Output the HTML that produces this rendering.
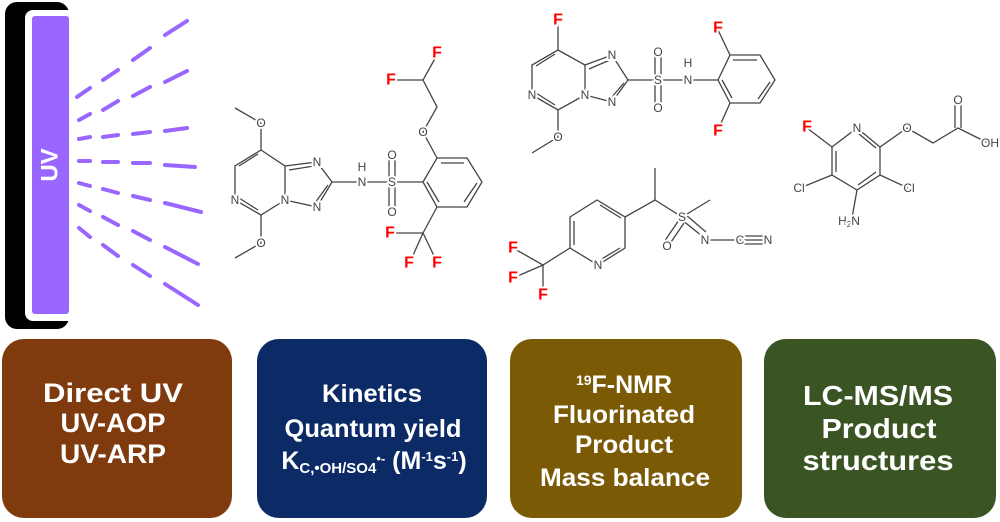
<!DOCTYPE html>
<html><head><meta charset="utf-8"><style>
html,body{margin:0;padding:0;background:#fff;}
svg{display:block;}
.b{stroke:#444;stroke-width:1.3;fill:none;}
.a{font-family:"Liberation Sans",sans-serif;font-size:12px;fill:#444;text-anchor:middle;dominant-baseline:central;paint-order:stroke;stroke:#fff;stroke-width:4px;}
.f{font-family:"Liberation Sans",sans-serif;font-size:16px;font-weight:bold;fill:#f00;text-anchor:middle;dominant-baseline:central;paint-order:stroke;stroke:#fff;stroke-width:4px;}
.t{font-family:"Liberation Sans",sans-serif;font-weight:bold;fill:#fff;text-anchor:middle;}
.r{stroke:#9966ff;stroke-width:4;stroke-linecap:round;}
</style></head><body>
<svg width="1000" height="522" viewBox="0 0 1000 522" xmlns="http://www.w3.org/2000/svg">
<!-- UV lamp -->
<rect x="5" y="2" width="64" height="327" rx="12" fill="#000"/>
<rect x="25" y="10" width="60" height="311" rx="8" fill="#fff"/>
<rect x="32" y="16" width="37" height="298" rx="3" fill="#9966ff"/>
<text x="50" y="165" class="t" font-size="24" transform="rotate(-90 50 165)" dominant-baseline="central">UV</text>
<g class="r">
<line x1="77" y1="97" x2="90" y2="88"/><line x1="103" y1="80" x2="118" y2="70"/><line x1="133" y1="60" x2="150" y2="48"/><line x1="165" y1="35" x2="187" y2="21"/>
<line x1="79" y1="120" x2="90" y2="114"/><line x1="103" y1="110" x2="118" y2="101"/><line x1="133" y1="96" x2="150" y2="87"/><line x1="165" y1="82" x2="187" y2="71"/>
<line x1="79" y1="139" x2="90" y2="137"/><line x1="103" y1="137" x2="118" y2="135"/><line x1="133" y1="134" x2="150" y2="132"/><line x1="165" y1="131" x2="187" y2="128"/>
<line x1="79" y1="161" x2="90" y2="161"/><line x1="103" y1="162" x2="118" y2="162"/><line x1="133" y1="163" x2="150" y2="163"/><line x1="165" y1="165" x2="195" y2="167"/>
<line x1="79" y1="183" x2="90" y2="186"/><line x1="103" y1="189" x2="118" y2="193"/><line x1="133" y1="196" x2="150" y2="200"/><line x1="165" y1="203" x2="201" y2="212"/>
<line x1="79" y1="205" x2="90" y2="211"/><line x1="103" y1="217" x2="118" y2="225"/><line x1="133" y1="231" x2="150" y2="240"/><line x1="165" y1="247" x2="198" y2="264"/>
<line x1="79" y1="228" x2="90" y2="237"/><line x1="103" y1="245" x2="118" y2="256"/><line x1="133" y1="265" x2="150" y2="276"/><line x1="165" y1="284" x2="198" y2="305"/>
</g>

<!-- Molecule 1 -->
<g class="b">
<polyline points="235,108 261,123 261,150 235,166 235,200 261,215 285,200 285,166 261,150"/>
<line x1="258" y1="154" x2="239" y2="166"/><line x1="239" y1="198" x2="258" y2="210"/>
<polyline points="261,215 261,243 235,258"/>
<polyline points="285,166 317,162 332,182 317,207 285,200"/>
<line x1="289" y1="170" x2="314" y2="166"/><line x1="328" y1="185" x2="315" y2="203"/>
<polyline points="332,182 362,182 392,182 423,182"/>
<line x1="389" y1="158" x2="389" y2="209"/><line x1="395" y1="158" x2="395" y2="209"/>
<polygon points="423,182 437,158 467,158 482,182 467,207 437,207"/>
<line x1="441" y1="163" x2="464" y2="163"/><line x1="477" y1="183" x2="464" y2="202"/><line x1="427" y1="182" x2="439" y2="202"/>
<polyline points="437,158 423,132 437,107 423,80 437,55"/><line x1="423" y1="80" x2="392" y2="80"/>
<polyline points="437,207 423,233 392,233"/><polyline points="410,262 423,233 437,262"/>
</g>
<text class="a" x="261" y="123">O</text><text class="a" x="261" y="243">O</text>
<text class="a" x="235" y="200">N</text><text class="a" x="285" y="200">N</text>
<text class="a" x="317" y="162">N</text><text class="a" x="317" y="207">N</text>
<text class="a" x="362" y="182">N</text><text class="a" x="362" y="167">H</text>
<text class="a" x="392" y="182">S</text><text class="a" x="392" y="155">O</text><text class="a" x="392" y="212">O</text>
<text class="a" x="423" y="132">O</text>
<text class="f" x="437" y="53">F</text><text class="f" x="391" y="80">F</text>
<text class="f" x="390" y="233">F</text><text class="f" x="409" y="263">F</text><text class="f" x="437" y="263">F</text>

<!-- Molecule 2 -->
<g class="b">
<polyline points="558,22 558,50 532,65 532,95 558,110 585,95 585,65 558,50"/>
<line x1="555" y1="54" x2="536" y2="66"/><line x1="536" y1="93" x2="555" y2="105"/>
<polyline points="558,110 558,137 532,153"/>
<polyline points="585,65 612,55 628,80 612,102 585,95"/>
<line x1="589" y1="69" x2="610" y2="60"/><line x1="624" y1="83" x2="611" y2="98"/>
<polyline points="628,80 658,80 688,80 718,80"/>
<line x1="655" y1="52" x2="655" y2="108"/><line x1="661" y1="52" x2="661" y2="108"/>
<polygon points="718,80 730,55 760,55 775,80 760,103 730,103"/>
<line x1="733" y1="60" x2="757" y2="60"/><line x1="770" y1="82" x2="758" y2="99"/><line x1="722" y1="80" x2="732" y2="98"/>
<line x1="730" y1="55" x2="718" y2="30"/><line x1="730" y1="103" x2="718" y2="130"/>
</g>
<text class="f" x="558" y="20">F</text>
<text class="a" x="532" y="95">N</text><text class="a" x="585" y="95">N</text>
<text class="a" x="612" y="55">N</text><text class="a" x="612" y="102">N</text>
<text class="a" x="658" y="80">S</text><text class="a" x="658" y="52">O</text><text class="a" x="658" y="108">O</text>
<text class="a" x="688" y="80">N</text><text class="a" x="688" y="63">H</text>
<text class="a" x="558" y="137">O</text>
<text class="f" x="718" y="28">F</text><text class="f" x="718" y="131">F</text>

<!-- Molecule 3 -->
<g class="b">
<polygon points="570,217 597,200 625,217 625,248 598,265 570,248"/>
<line x1="574" y1="221" x2="574" y2="245"/><line x1="600" y1="205" x2="621" y2="218"/><line x1="620" y1="248" x2="600" y2="260"/>
<polyline points="570,248 543,265"/><polyline points="513,248 543,265 513,278"/><line x1="543" y1="265" x2="543" y2="293"/>
<polyline points="625,217 655,200 682,217 710,200"/><line x1="655" y1="200" x2="655" y2="168"/>
<line x1="679" y1="220" x2="664" y2="242"/><line x1="684" y1="223" x2="669" y2="245"/>
<line x1="682" y1="220" x2="702" y2="236"/><line x1="686" y1="215" x2="706" y2="232"/>
<line x1="705" y1="240" x2="767" y2="240"/><line x1="742" y1="236" x2="767" y2="236"/><line x1="742" y1="244" x2="767" y2="244"/>
</g>
<text class="a" x="598" y="265">N</text>
<text class="a" x="682" y="217">S</text><text class="a" x="667" y="246">O</text>
<text class="a" x="705" y="240">N</text><text class="a" x="740" y="240">C</text><text class="a" x="768" y="240">N</text>
<text class="f" x="513" y="248">F</text><text class="f" x="513" y="278">F</text><text class="f" x="543" y="295">F</text>

<!-- Molecule 4 -->
<g class="b">
<polygon points="832,147 857,128 880,147 880,175 857,190 832,175"/>
<line x1="836" y1="151" x2="836" y2="172"/><line x1="859" y1="134" x2="876" y2="148"/><line x1="876" y1="172" x2="858" y2="185"/>
<line x1="832" y1="147" x2="807" y2="128"/>
<line x1="832" y1="175" x2="800" y2="188"/><line x1="880" y1="175" x2="908" y2="188"/><line x1="857" y1="190" x2="852" y2="218"/>
<polyline points="880,147 907,128 933,143 958,128 988,143"/>
<line x1="955" y1="128" x2="955" y2="100"/><line x1="961" y1="128" x2="961" y2="100"/>
</g>
<text class="f" x="807" y="127">F</text>
<text class="a" x="857" y="128">N</text>
<text class="a" x="799" y="188">Cl</text><text class="a" x="909" y="188">Cl</text>
<text class="a" x="849" y="221">H<tspan font-size="8" dy="3">2</tspan><tspan dy="-3">N</tspan></text>
<text class="a" x="907" y="128">O</text><text class="a" x="958" y="100">O</text><text class="a" x="990" y="143">OH</text>

<!-- Boxes -->
<rect x="2" y="339" width="230" height="179" rx="22" fill="#7f3a0e"/>
<rect x="257" y="339" width="230" height="179" rx="22" fill="#0c2a66"/>
<rect x="510" y="339" width="232" height="179" rx="22" fill="#7a5a05"/>
<rect x="764" y="339" width="232" height="179" rx="22" fill="#3b5424"/>

<g class="t" font-size="27">
<text x="113" y="402" textLength="140" lengthAdjust="spacingAndGlyphs">Direct UV</text>
<text x="113" y="432" textLength="105" lengthAdjust="spacingAndGlyphs">UV-AOP</text>
<text x="113" y="463" textLength="106" lengthAdjust="spacingAndGlyphs">UV-ARP</text>
</g>
<g class="t" font-size="25">
<text x="372" y="402" textLength="100" lengthAdjust="spacingAndGlyphs">Kinetics</text>
<text x="373" y="437" textLength="177" lengthAdjust="spacingAndGlyphs">Quantum yield</text>
<text x="374" y="469">K<tspan font-size="15" dy="4">C,•OH/SO4</tspan><tspan font-size="13" dy="-10">•-</tspan><tspan dy="6"> (M</tspan><tspan font-size="13" dy="-8">-1</tspan><tspan dy="8">s</tspan><tspan font-size="13" dy="-8">-1</tspan><tspan dy="8">)</tspan></text>
</g>
<g class="t" font-size="25">
<text x="624" y="393"><tspan font-size="14" dy="-8">19</tspan><tspan dy="8">F-NMR</tspan></text>
<text x="624" y="423" textLength="142" lengthAdjust="spacingAndGlyphs">Fluorinated</text>
<text x="624" y="453" textLength="98" lengthAdjust="spacingAndGlyphs">Product</text>
<text x="625" y="486" textLength="170" lengthAdjust="spacingAndGlyphs">Mass balance</text>
</g>
<g class="t" font-size="28">
<text x="878" y="405" textLength="150" lengthAdjust="spacingAndGlyphs">LC-MS/MS</text>
<text x="879" y="438" textLength="115" lengthAdjust="spacingAndGlyphs">Product</text>
<text x="878" y="470" textLength="151" lengthAdjust="spacingAndGlyphs">structures</text>
</g>
</svg>
</body></html>
